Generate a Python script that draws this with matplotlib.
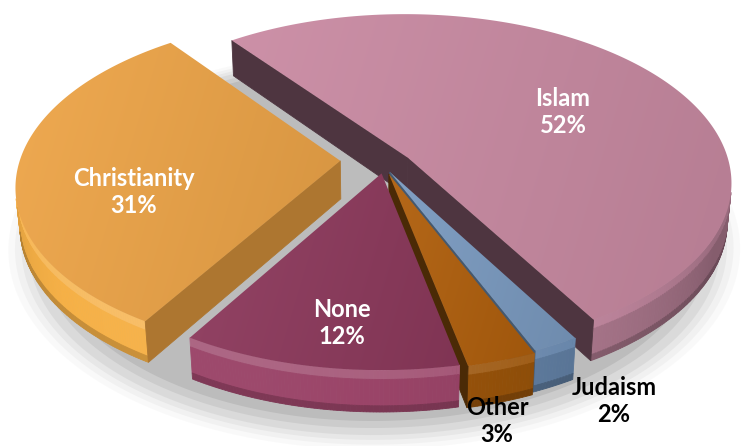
import numpy as np
import matplotlib.pyplot as plt
from matplotlib.patches import Polygon
from matplotlib.colors import to_rgb

# religion shares, listed clockwise from the upper-left edge
religions = ['Islam', 'Judaism', 'Other', 'None', 'Christianity']
shares = [52, 2, 3, 12, 31]
explode = [0.09, 0.04, 0.05, 0.045, 0.14]
explode_turn = [0, 0, 0, 0, -16]  # degrees added to each slice's mid angle

top_colors = ['#ca8ba3', '#7b9bc1', '#b1600d', '#8e3a5d', '#eea548']
side_colors = ['#4e3540', '#45596f', '#4a2a06', '#5a2038', '#ad7630']
wall_colors = ['#b98198', '#6483a8', '#9a540a', '#9a4468', '#f6b046']
label_colors = ['white', 'black', 'black', 'white', 'white']
label_xy = [(563, 112), (614, 401), (497, 421), (342, 323), (134, 192)]

# view: centre x/y, scale, elevation, eye distance, start angle, thickness
cx, cy, k, elev, dist, start = 384, 166, 322, 31.1, 6.0, 127.2
h = 0.14


def project(X, Y, Z):
    er = np.radians(elev)
    v = Y * np.sin(er) + Z * np.cos(er)
    w = Y * np.cos(er) - Z * np.sin(er)
    s = dist / (dist + w)
    return cx + k * X * s, cy - k * v * s


def shade(c, f):
    c = np.array(to_rgb(c))
    return tuple(np.clip(c * f, 0, 1)) if f < 1 else tuple(c + (1 - c) * (f - 1))


fig = plt.figure(figsize=(7.42, 4.46), dpi=100)
ax = fig.add_axes([0, 0, 1, 1])
zo = [1]


def add_poly(xs, ys, col, alpha=1.0):
    zo[0] += 1
    ax.add_patch(Polygon(np.c_[xs, ys], closed=True, fc=col, ec=col if alpha == 1 else 'none',
                         lw=0.6, alpha=alpha, zorder=zo[0]))


def fill_grad(xs, ys, c0, c1, vec):
    zo[0] += 1
    poly = Polygon(np.c_[xs, ys], closed=True, fc='none', ec='none', zorder=zo[0])
    ax.add_patch(poly)
    x0, x1, y0, y1 = xs.min(), xs.max(), ys.min(), ys.max()
    gx, gy = np.meshgrid(np.linspace(x0, x1, 120), np.linspace(y0, y1, 120))
    pr = gx * vec[0] + gy * vec[1]
    f = (pr - pr.min()) / (np.ptp(pr) + 1e-9)
    a, b = np.array(to_rgb(c0)), np.array(to_rgb(c1))
    im = ax.imshow(a + (b - a) * f[..., None], extent=(x0, x1, y1, y0), origin='upper',
                   interpolation='bilinear', zorder=zo[0])
    im.set_clip_path(poly)


er = np.radians(elev)
cam = np.array([0, -dist * np.cos(er), dist * np.sin(er)])
light = np.array([-0.5, -1.0, 0.6])
light /= np.linalg.norm(light)

# soft floor shadow under the pie
tt = np.radians(np.linspace(0, 360, 240))
for sc, al in [(1.14, 0.06), (1.12, 0.09), (1.10, 0.13), (1.08, 0.18), (1.05, 0.26), (1.02, 0.4)]:
    xs, ys = project(-0.03 + sc * np.cos(tt), 0.0 + sc * np.sin(tt), np.full(tt.size, -h - 0.05))
    add_poly(xs, ys, '#a4a4a4', alpha=al)

edges = start - np.concatenate([[0], np.cumsum(shares)]) * 3.6
items = []
for i in range(len(shares)):
    t0, t1 = edges[i], edges[i + 1]
    mid = np.radians((t0 + t1) / 2 + explode_turn[i])
    ox, oy = explode[i] * np.cos(mid), explode[i] * np.sin(mid)
    items.append((oy + 0.5 * np.sin(np.radians((t0 + t1) / 2)), i, t0, t1, ox, oy))
items.sort(key=lambda it: -it[0])  # back to front

bands = [(0.0, 0.22, 1.15), (0.22, 0.85, 1.0), (0.85, 1.0, 0.8)]
for _, i, t0, t1, ox, oy in items:
    t = np.radians(np.linspace(t0, t1, max(int(abs(t0 - t1)), 4) * 2))
    X, Y = ox + np.cos(t), oy + np.sin(t)
    # outer wall
    for j in range(len(t) - 1):
        tm = (t[j] + t[j + 1]) / 2
        n = np.array([np.cos(tm), np.sin(tm), 0])
        pt = np.array([ox + np.cos(tm), oy + np.sin(tm), -h / 2])
        if n @ (cam - pt) <= 0:
            continue
        base = 0.72 + 0.35 * max(0, n @ light)
        for za, zb, bf in bands:
            xs, ys = project(np.array([X[j], X[j + 1], X[j + 1], X[j]]),
                             np.array([Y[j], Y[j + 1], Y[j + 1], Y[j]]),
                             np.array([-za, -za, -zb, -zb]) * h)
            add_poly(xs, ys, shade(wall_colors[i], base * bf))
    # cut faces
    for ang, n in ((t[0], np.array([-np.sin(t[0]), np.cos(t[0]), 0])),
                   (t[-1], np.array([np.sin(t[-1]), -np.cos(t[-1]), 0]))):
        pt = np.array([ox + 0.5 * np.cos(ang), oy + 0.5 * np.sin(ang), -h / 2])
        if n @ (cam - pt) <= 0:
            continue
        xs, ys = project(np.array([ox, ox + np.cos(ang), ox + np.cos(ang), ox]),
                         np.array([oy, oy + np.sin(ang), oy + np.sin(ang), oy]),
                         np.array([0, 0, -h, -h]))
        add_poly(xs, ys, side_colors[i])
    # top
    xs, ys = project(np.r_[ox, X], np.r_[oy, Y], np.zeros(len(X) + 1))
    fill_grad(xs, ys, shade(top_colors[i], 1.05), shade(top_colors[i], 0.9), (1, 0.3))

for i, name in enumerate(religions):
    ax.text(*label_xy[i], f'{name}\n{shares[i]}%', color=label_colors[i], ha='center', va='center',
            fontsize=17, fontweight='bold', family='Lato', linespacing=1.25, zorder=zo[0] + 10)

ax.set_xlim(0, 742)
ax.set_ylim(446, 0)
ax.set_aspect('auto')
ax.axis('off')
fig.savefig('out.png', dpi=100)
